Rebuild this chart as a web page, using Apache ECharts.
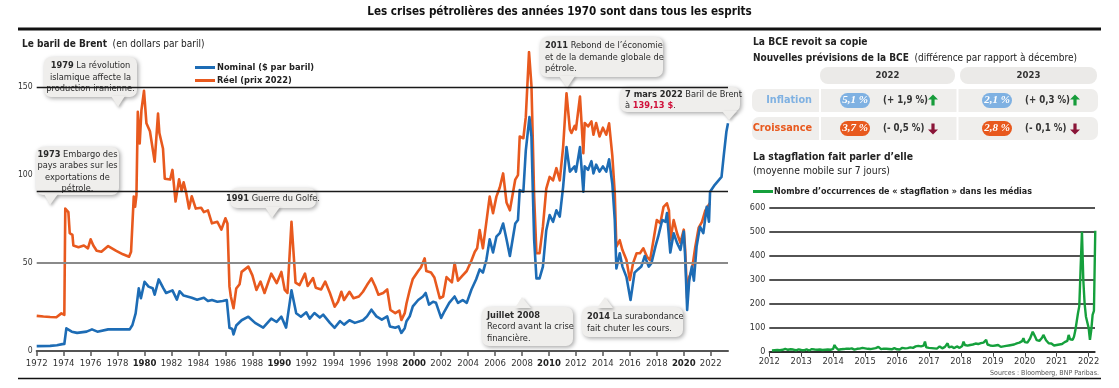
<!DOCTYPE html>
<html><head><meta charset="utf-8">
<script src="https://cdn.jsdelivr.net/npm/echarts@6/dist/echarts.min.js"></script>
<style>html,body{margin:0;padding:0;background:#fff}#c{width:1119px;height:388px}</style>
</head><body><div id="c"></div>
<script>
const FONT = '"DejaVu Sans Condensed","Liberation Sans Narrow",sans-serif';
const BLUE = '#1d6cb5', ORANGE = '#e8591e', GREEN = '#15a03c';

// ---- Left chart data: Brent, [year, $/barrel]
const yearTicks = [1972,1974,1976,1978,1980,1982,1984,1986,1988,1990,1992,1994,1996,1998,2000,2002,2004,2006,2008,2010,2012,2014,2016,2018,2020,2022];
const boldYears = [1980,1990,2000,2010,2020];
const brentTicks = [0,50,100,150];
const realPrice = [[1972.0,20],[1972.5,19.6],[1973.0,19.3],[1973.46,19.2],[1973.83,21.4],[1974.05,20.5],[1974.12,81],[1974.35,79],[1974.45,67],[1974.65,66],[1974.72,60],[1975.1,59],[1975.5,60],[1975.8,58.4],[1976.0,63.5],[1976.2,60],[1976.3,61],[1976.45,57],[1976.8,56.5],[1977.3,59.7],[1977.9,57],[1978.4,55],[1978.85,53.6],[1979.0,56.5],[1979.2,87.8],[1979.3,82],[1979.4,88.7],[1979.5,136],[1979.64,118],[1979.77,137],[1979.96,148],[1980.14,129.5],[1980.4,125],[1980.5,124],[1980.75,107.7],[1981.0,135],[1981.1,124],[1981.37,115],[1981.5,98],[1981.9,97.5],[1982.07,103],[1982.3,85],[1982.56,97.6],[1982.75,91],[1982.9,96],[1983.1,89.5],[1983.3,81],[1983.5,88],[1983.8,81],[1984.2,81.5],[1984.4,79],[1984.7,80],[1985.0,72.6],[1985.4,73.5],[1985.7,69],[1986.0,75.5],[1986.15,72.5],[1986.3,36.6],[1986.4,31],[1986.6,24.3],[1986.8,35.5],[1987.05,38],[1987.2,45],[1987.7,48],[1988.0,43],[1988.3,34.7],[1988.6,39.5],[1988.9,33],[1989.4,44],[1989.8,38.6],[1990.15,45],[1990.4,34.7],[1990.6,33],[1990.9,73.5],[1991.2,38.9],[1991.5,37.5],[1991.9,44],[1992.1,37],[1992.5,41.5],[1992.7,36],[1993.1,35],[1993.4,39.5],[1993.75,33],[1994.1,25.2],[1994.35,28],[1994.6,33.7],[1994.8,29],[1995.2,33.7],[1995.5,30],[1995.9,31],[1996.2,33.7],[1996.5,37.5],[1996.83,41.3],[1997.1,37],[1997.35,32],[1997.7,33],[1998.0,35],[1998.24,23.3],[1998.6,21.5],[1998.9,23],[1999.05,17.6],[1999.3,21.5],[1999.43,27],[1999.67,34.7],[1999.9,41],[2000.3,45.5],[2000.5,47.5],[2000.78,52.7],[2000.9,45.5],[2001.25,44.6],[2001.5,41.8],[2001.9,30],[2002.15,31],[2002.4,42],[2002.8,39],[2003.0,50],[2003.25,40],[2003.6,43],[2003.9,45.5],[2004.25,51.5],[2004.5,56.5],[2004.67,58.4],[2004.86,68.8],[2005.1,58.4],[2005.36,73.6],[2005.6,87.8],[2005.85,78.4],[2006.1,87.8],[2006.35,93],[2006.6,101],[2006.85,84.5],[2007.1,80],[2007.5,97.5],[2007.7,100],[2007.83,122],[2008.1,121],[2008.28,133],[2008.52,170],[2008.7,151],[2008.8,120],[2008.9,88],[2009.07,55.6],[2009.3,55.6],[2009.55,70.7],[2009.8,92.4],[2010.05,99],[2010.3,97],[2010.55,104],[2010.8,97],[2011.05,116],[2011.3,146.6],[2011.55,126],[2011.67,124],[2011.9,128],[2012.0,126],[2012.3,144.7],[2012.55,112.5],[2012.65,129.7],[2012.9,127.7],[2013.15,130.6],[2013.3,123],[2013.5,129.7],[2013.75,122],[2014.0,127],[2014.25,123],[2014.46,129.5],[2014.7,111],[2014.88,89.7],[2015.0,59.3],[2015.25,63],[2015.45,57.4],[2015.75,51.7],[2016.0,40.4],[2016.24,50],[2016.5,55.6],[2016.75,55.6],[2017.0,58.4],[2017.26,53.7],[2017.5,51.7],[2017.75,63],[2018.0,74.5],[2018.26,72.7],[2018.5,82],[2018.75,84],[2018.9,80],[2019.0,63],[2019.25,74.5],[2019.5,67],[2019.75,61.5],[2020.0,69],[2020.1,58],[2020.25,30],[2020.4,42],[2020.6,46],[2020.85,59],[2021.1,70],[2021.35,73.5],[2021.6,80],[2021.93,84]];
const nominalPrice = [[1972.0,2.8],[1973.0,2.9],[1973.5,3.3],[1973.9,3.9],[1974.05,4],[1974.2,12.9],[1974.6,11],[1975.0,10.3],[1975.7,11],[1976.1,12.3],[1976.5,11],[1977.3,12.3],[1978.9,12.3],[1979.1,14.8],[1979.34,21.4],[1979.45,20.5],[1979.57,35.6],[1979.73,30],[1980.0,39.4],[1980.3,36.6],[1980.6,35.7],[1980.75,32],[1981.05,40.7],[1981.4,35.6],[1981.6,33],[1982.07,34.5],[1982.4,29.2],[1982.6,34],[1982.9,31.5],[1983.5,30.3],[1983.9,29.2],[1984.4,30.3],[1984.7,28.4],[1985.0,29],[1985.4,28],[1985.8,28.4],[1986.1,29],[1986.3,13.2],[1986.5,12.5],[1986.6,9.4],[1986.8,14.5],[1987.2,17.5],[1987.7,19.5],[1988.2,16],[1988.8,13.3],[1989.4,18.4],[1989.8,16.5],[1990.15,19.5],[1990.5,13.3],[1990.9,34.5],[1991.25,21.5],[1991.6,19.5],[1992.0,22],[1992.25,18.4],[1992.6,21.6],[1993.0,19],[1993.25,20.7],[1993.75,16],[1994.1,13.2],[1994.5,17],[1994.8,15],[1995.2,17.5],[1995.6,16],[1996.2,17.5],[1996.5,19.7],[1996.83,23.5],[1997.2,19.7],[1997.6,17.8],[1998.0,19.7],[1998.2,14],[1998.6,13.2],[1998.85,14],[1999.05,10.3],[1999.3,13],[1999.43,16.9],[1999.67,19.7],[1999.9,25.4],[2000.3,29],[2000.65,31],[2000.85,33],[2001.1,26.4],[2001.4,28],[2001.62,27.4],[2002.0,18.8],[2002.25,22.6],[2002.6,27.4],[2003.0,31],[2003.25,27.4],[2003.6,29],[2003.9,27.4],[2004.25,35],[2004.6,40.8],[2004.86,46.4],[2005.1,44.6],[2005.36,52],[2005.6,63.5],[2005.85,56],[2006.1,65],[2006.35,67],[2006.6,72.5],[2006.85,63.5],[2007.1,54],[2007.5,72.5],[2007.7,74.5],[2007.83,91.5],[2008.1,90.6],[2008.28,114],[2008.55,133],[2008.7,122],[2008.8,91.5],[2008.9,63.5],[2009.07,41.3],[2009.3,41.3],[2009.55,48],[2009.8,68.7],[2010.05,77.3],[2010.3,73.5],[2010.55,80],[2010.8,76.4],[2011.05,93.4],[2011.3,116],[2011.55,102],[2011.67,101],[2011.9,105],[2012.0,102],[2012.3,116],[2012.55,90.6],[2012.65,105],[2012.9,103],[2013.15,108],[2013.3,101],[2013.5,106],[2013.75,102],[2014.0,105],[2014.25,102],[2014.46,109],[2014.7,95],[2014.88,74.5],[2015.0,47],[2015.25,55.6],[2015.45,48],[2015.75,42],[2016.05,29],[2016.35,44.6],[2016.6,46.4],[2016.85,48],[2017.1,54],[2017.4,48],[2017.6,50],[2017.9,59.5],[2018.1,65],[2018.4,74.5],[2018.65,73.5],[2018.75,78.4],[2019.0,56],[2019.25,67],[2019.5,61.5],[2019.75,57.5],[2020.0,68],[2020.1,54],[2020.25,23.3],[2020.4,40],[2020.6,48],[2020.75,40],[2020.95,59.4],[2021.2,70.7],[2021.45,67],[2021.7,82],[2021.87,73.5],[2021.95,90.6],[2022.3,94.5],[2022.8,99],[2022.97,111.5],[2023.1,110.5],[2023.16,124.7],[2023.28,129.5]];
const refLines = [150, 91, 50];

// ---- Right chart: stagflation mentions (7-day moving average), half-month readings from 2012 + 2/24
const stagStart = 2012 + 2 / 24;
const stagStep = 1 / 24;
const stagflation = [
 5,8,6,10,7,9,6,11,8,7,12,9,8,6,10,18,9,7,6,8,10,7,
 7,9,6,8,10,7,5,8,11,6,9,7,8,12,9,6,7,10,8,6,9,11,8,10,
 12,28,18,10,8,12,10,14,11,9,13,16,12,10,14,11,9,15,12,10,13,11,16,12,
 14,10,12,18,11,9,13,10,15,12,20,14,11,10,13,16,12,9,11,14,10,12,15,11,
 10,13,9,12,16,11,14,20,15,12,18,14,16,19,22,17,24,20,22,30,25,42,18,14,
 16,12,15,20,14,18,13,17,22,16,14,19,20,24,35,18,14,21,17,15,19,22,18,16,
 20,24,42,28,22,25,21,28,24,30,26,34,28,32,30,36,32,38,34,49,30,24,26,28,
 24,20,26,22,28,24,20,25,22,27,24,30,26,32,28,24,30,26,35,30,38,34,44,56,
 40,48,38,45,55,62,83,88,60,48,40,45,50,58,70,62,48,40,35,30,34,30,26,32,
 28,34,30,38,32,36,40,35,45,70,52,45,50,62,88,80,160,190,350,500,300,200,146,153,
 100,49,90,153,170,504];
const stagYears = [2012,2013,2014,2015,2016,2017,2018,2019,2020,2021,2022];

// ---- ECB table
const tableYears = ['2022','2023'];
const tableRows = ['Inflation','Croissance'];
const forecasts = [['5,1 %','2,1 %'],['3,7 %','2,8 %']];
const changes = [['(+ 1,9 %)','(+ 0,3 %)'],['(- 0,5 %)','(- 0,1 %)']];
const changeUp = [[true,true],[false,false]];

const stagData = stagflation.map((v, i) => [stagStart + i * stagStep, v]);

const CF = 9.2, CL = 11.5;
function callout(x, y, w, h, ptr, text, align) {
  const fill = '#efeeec';
  return {
    type: 'group', z: 50, children: [
      { type: 'rect', shape: { x, y, width: w, height: h, r: 7 },
        style: { fill, shadowBlur: 4, shadowOffsetX: 1.5, shadowOffsetY: 1.5, shadowColor: 'rgba(0,0,0,0.35)' } },
      { type: 'polygon', shape: { points: ptr },
        style: { fill, shadowBlur: 3, shadowOffsetX: 1.5, shadowOffsetY: 1.5, shadowColor: 'rgba(0,0,0,0.3)' } },
      { type: 'text', style: {
          text, x: align === 'center' ? x + w / 2 : x + 5, y: y + h / 2 + 0.5,
          align, verticalAlign: 'middle', fill: '#2a2a2a',
          fontFamily: FONT, fontSize: CF, lineHeight: CL,
          rich: {
            b: { fontWeight: 'bold', fontFamily: FONT, fontSize: CF, lineHeight: CL, fill: '#2a2a2a' },
            r: { fontWeight: 'bold', fontFamily: FONT, fontSize: CF, lineHeight: CL, fill: '#d0103a' }
          } } }
    ]
  };
}

function arrow(cx, cy, up, color) {
  const s = up ? 1 : -1;
  return { type: 'polygon', z: 60, shape: { points: [
    [cx, cy - 6 * s], [cx + 5, cy - 1 * s], [cx + 1.6, cy - 1 * s], [cx + 1.6, cy + 5 * s],
    [cx - 1.6, cy + 5 * s], [cx - 1.6, cy - 1 * s], [cx - 5, cy - 1 * s]] }, style: { fill: color } };
}

const graphics = [
  { type: 'line', shape: { x1: 18, y1: 29, x2: 1101, y2: 29 }, style: { stroke: '#111', lineWidth: 3 } },
  { type: 'line', shape: { x1: 18, y1: 378.5, x2: 1101, y2: 378.5 }, style: { stroke: '#111', lineWidth: 1.5 } },
  { type: 'text', style: { text: 'Sources : Bloomberg, BNP Paribas.', x: 1099, y: 373, align: 'right', verticalAlign: 'middle', fontFamily: FONT, fontSize: 7, fill: '#555' } },
  callout(44, 57, 93, 40, [[111, 96], [125, 96], [118, 107]], '{b|1979} La révolution\nislamique affecte la\nproduction iranienne.', 'center'),
  callout(36, 147, 83, 48, [[44, 194], [58, 194], [50, 205]], '{b|1973} Embargo des\npays arabes sur les\nexportations de\npétrole.', 'center'),
  callout(230, 188, 86, 20, [[265, 207], [280, 207], [272, 218]], '{b|1991} Guerre du Golfe.', 'center'),
  callout(540, 37, 123, 40, [[559, 76], [575, 76], [567, 88]], '{b|2011} Rebond de l\u2019économie\net de la demande globale de\npétrole.', 'left'),
  callout(620, 87, 120, 25, [[722, 111], [737, 111], [729, 120]], '{b|7 mars 2022} Baril de Brent\nà {r|139,13 $}.', 'left'),
  callout(482, 307, 91, 39, [[515, 308], [531, 308], [522, 297]], '{b|Juillet 2008}\nRecord avant la crise\nfinancière.', 'left'),
  callout(582, 307, 101, 30, [[597, 308], [613, 308], [605, 297]], '{b|2014} La surabondance\nfait chuter les cours.', 'left')
];

// ECB table graphics
const colX = [[820, 135], [960, 137]];
tableYears.forEach((yr, j) => {
  graphics.push({ type: 'rect', z: 40, shape: { x: colX[j][0], y: 67, width: colX[j][1], height: 17, r: 8 }, style: { fill: '#ebeae8' } });
  graphics.push({ type: 'text', z: 41, style: { text: yr, x: colX[j][0] + colX[j][1] / 2, y: 76, align: 'center', verticalAlign: 'middle', fontFamily: FONT, fontSize: 9.5, fontWeight: 'bold', fill: '#333' } });
});
const rowY = [89, 117];
const rowColor = ['#7fb1e2', ORANGE];
tableRows.forEach((name, i) => {
  const y = rowY[i];
  graphics.push({ type: 'rect', z: 40, shape: { x: 752, y, width: 346, height: 23, r: 7 }, style: { fill: '#efeeec' } });
  graphics.push({ type: 'line', z: 41, shape: { x1: 820, y1: y, x2: 820, y2: y + 23 }, style: { stroke: '#fff', lineWidth: 2 } });
  graphics.push({ type: 'line', z: 41, shape: { x1: 957.5, y1: y, x2: 957.5, y2: y + 23 }, style: { stroke: '#fff', lineWidth: 2 } });
  graphics.push({ type: 'text', z: 42, style: { text: name, x: 812, y: y + 11.5, align: 'right', verticalAlign: 'middle', fontFamily: FONT, fontSize: 10.8, fontWeight: 'bold', fill: rowColor[i] } });
  [[840, 883, 933], [982, 1025, 1075]].forEach((xs, j) => {
    graphics.push({ type: 'rect', z: 42, shape: { x: xs[0], y: y + 4, width: 30, height: 15, r: 7.5 }, style: { fill: rowColor[i] } });
    graphics.push({ type: 'text', z: 43, style: { text: forecasts[i][j], x: xs[0] + 15, y: y + 11.5, align: 'center', verticalAlign: 'middle', font: 'italic bold 11px "Liberation Serif","DejaVu Serif",serif', fill: '#fff' } });
    graphics.push({ type: 'text', z: 43, style: { text: changes[i][j], x: xs[1], y: y + 11.5, align: 'left', verticalAlign: 'middle', fontFamily: FONT, fontSize: 9.6, fontWeight: 'bold', fill: '#333' } });
    graphics.push(arrow(xs[2], y + 11.5, changeUp[i][j], changeUp[i][j] ? '#169c3a' : '#8a1538'));
  });
});

const tStyle = (size, weight) => ({ fontFamily: FONT, fontSize: size, fontWeight: weight, color: '#222' });
const chart = echarts.init(document.getElementById('c'), null, { renderer: 'canvas' });
chart.setOption({
  animation: false,
  textStyle: { fontFamily: FONT },
  title: [
    { text: 'Les crises pétrolières des années 1970 sont dans tous les esprits', left: 'center', top: 6, padding: 0,
      textStyle: { fontFamily: FONT, fontSize: 11.6, fontWeight: 'bold', color: '#111' } },
    { text: '{b|Le baril de Brent} {n|(en dollars par baril)}', left: 22, top: 35, padding: 0,
      textStyle: { rich: { b: tStyle(10, 'bold'), n: tStyle(10, 'normal') } } },
    { text: 'La BCE revoit sa copie', left: 753, top: 37, padding: 0, textStyle: tStyle(10.2, 'bold') },
    { text: '{b|Nouvelles prévisions de la BCE} {n|(différence par rapport à décembre)}', left: 753, top: 49, padding: 0,
      textStyle: { rich: { b: tStyle(10, 'bold'), n: tStyle(10, 'normal') } } },
    { text: 'La stagflation fait parler d\u2019elle', left: 753, top: 152, padding: 0, textStyle: tStyle(10.3, 'bold') },
    { text: '(moyenne mobile sur 7 jours)', left: 753, top: 166, padding: 0, textStyle: tStyle(10.3, 'normal') }
  ],
  legend: [
    { data: ['Nominal ($ par baril)', 'Réel (prix 2022)'], orient: 'vertical', left: 190, top: 58, itemGap: 4,
      itemWidth: 20, itemHeight: 3, icon: 'rect', selectedMode: false,
      textStyle: { fontFamily: FONT, fontSize: 9.2, fontWeight: 'bold', color: '#222', padding: [0, 0, 0, -3] } },
    { data: ['Nombre d\u2019occurrences de « stagflation » dans les médias'], left: 748, top: 182, itemWidth: 20, itemHeight: 3,
      icon: 'rect', selectedMode: false,
      textStyle: { fontFamily: FONT, fontSize: 8.9, fontWeight: 'bold', color: '#222', padding: [0, 0, 0, -4] } }
  ],
  grid: [
    { left: 36.7, top: 52.1, width: 691.3, height: 298.9, containLabel: false },
    { left: 769.3, top: 207.7, width: 325.7, height: 144, containLabel: false }
  ],
  xAxis: [
    { type: 'value', gridIndex: 0, min: 1972, max: 2023.28,
      axisLine: { show: true, lineStyle: { color: '#555', width: 2 } },
      axisTick: { show: true, customValues: yearTicks, length: 5, lineStyle: { color: '#555', width: 1.5 } },
      axisLabel: { customValues: yearTicks, fontFamily: FONT, fontSize: 9.5, color: '#333', margin: 8,
        formatter: v => boldYears.includes(v) ? '{b|' + v + '}' : String(v),
        rich: { b: { fontFamily: FONT, fontSize: 9.5, fontWeight: 'bold', color: '#222' } } },
      splitLine: { show: false } },
    { type: 'value', gridIndex: 1, min: 2012, max: 2022.2,
      axisLine: { show: true, onZero: false, lineStyle: { color: '#222', width: 1.5 } },
      axisTick: { show: true, customValues: stagYears, length: 5, lineStyle: { color: '#444', width: 1 } },
      axisLabel: { customValues: stagYears, fontFamily: FONT, fontSize: 9.3, color: '#333', margin: 5, formatter: v => String(v) },
      splitLine: { show: false } }
  ],
  yAxis: [
    { type: 'value', gridIndex: 0, min: 0, max: 170,
      axisLine: { show: false }, axisTick: { show: false }, splitLine: { show: false },
      axisLabel: { customValues: brentTicks, fontFamily: FONT, fontSize: 8.6, color: '#333', margin: 4 } },
    { type: 'value', gridIndex: 1, min: 0, max: 600, interval: 100,
      axisLine: { show: false }, axisTick: { show: false },
      splitLine: { show: true, lineStyle: { color: '#1a1a1a', width: 1.5 } },
      axisLabel: { fontFamily: FONT, fontSize: 9, color: '#333', margin: 4 } }
  ],
  series: [
    { type: 'line', name: '_ref', xAxisIndex: 0, yAxisIndex: 0, data: [], z: 1, silent: true,
      markLine: { silent: true, symbol: 'none', label: { show: false }, animation: false,
        data: refLines.map((v, i) => ({ yAxis: v, lineStyle: { type: 'solid', color: i === 2 ? '#8a8a8a' : '#1a1a1a', width: i === 2 ? 2 : 1.3 } })) } },
    { type: 'line', name: 'Réel (prix 2022)', xAxisIndex: 0, yAxisIndex: 0, data: realPrice, showSymbol: false, z: 3,
      color: ORANGE, lineStyle: { width: 2.6, color: ORANGE, join: 'round' } },
    { type: 'line', name: 'Nominal ($ par baril)', xAxisIndex: 0, yAxisIndex: 0, data: nominalPrice, showSymbol: false, z: 4,
      color: BLUE, lineStyle: { width: 2.6, color: BLUE, join: 'round' } },
    { type: 'line', name: 'Nombre d\u2019occurrences de « stagflation » dans les médias', xAxisIndex: 1, yAxisIndex: 1,
      data: stagData, showSymbol: false, z: 4, color: GREEN, lineStyle: { width: 2.4, color: GREEN } }
  ],
  graphic: graphics
});
</script></body></html>
